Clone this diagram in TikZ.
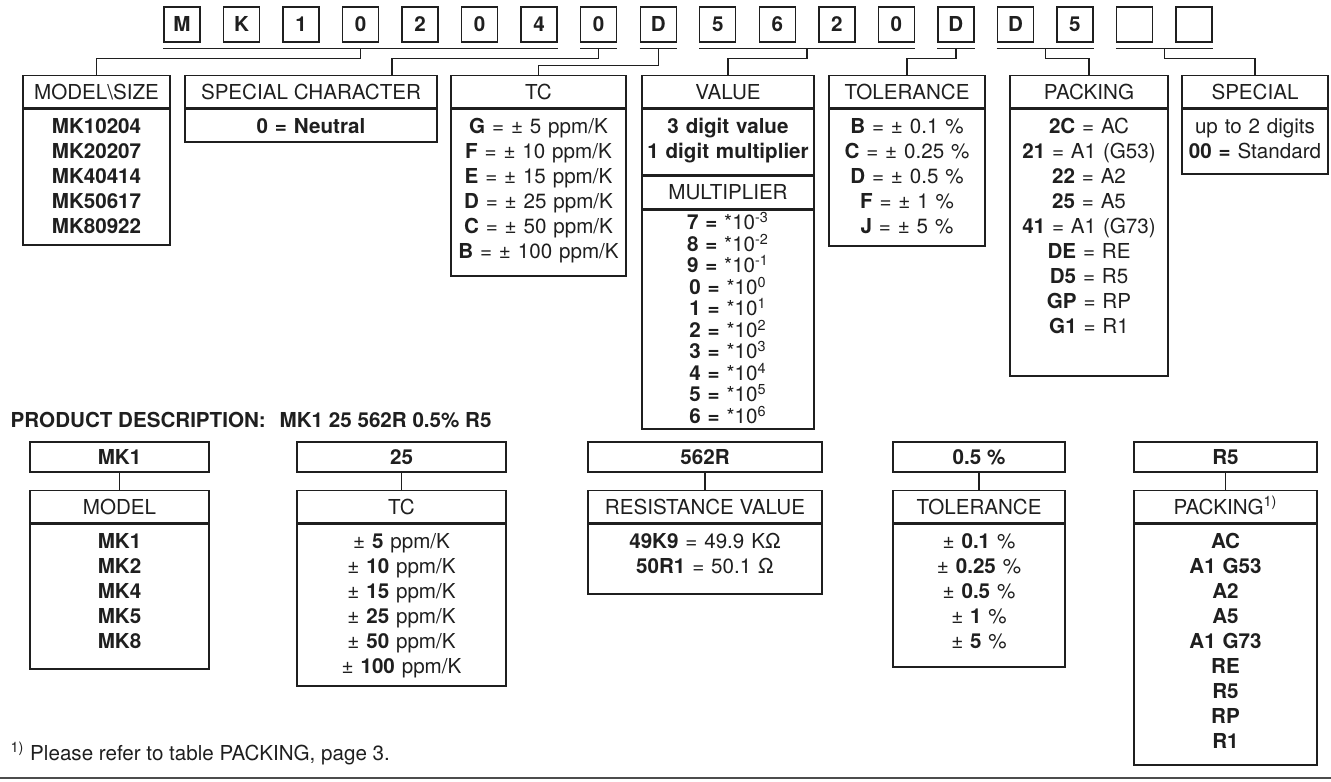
\documentclass[tikz,border=0pt]{standalone}
\usepackage{fontspec}
\setmainfont{TeX Gyre Heros}
\usetikzlibrary{positioning,calc}

\tikzset{
  cb/.style={draw,minimum width=18pt,minimum height=17.5pt,inner sep=0pt,font=\bfseries,text height=7.4pt,text depth=0pt},
  hd/.style={draw,minimum width=#1,minimum height=16pt,inner sep=0pt,text height=7.4pt,text depth=0pt},
  bd/.style 2 args={draw,inner sep=0pt,text width=#1,align=center,text height=12pt,text depth=#2},
  vb/.style={draw,minimum width=#1,minimum height=15pt,inner sep=0pt,font=\bfseries,text height=7.4pt,text depth=0pt},
}

\begin{document}
\fontsize{10.3}{12.5}\selectfont
\begin{tikzpicture}[x=0.5pt,y=-0.5pt,line width=0.7pt,color=black!88]
  \useasboundingbox (0,0) rectangle (1331,781);

  % code boxes
  \foreach \ch [count=\i] in {M,K,1,0,2,0,4,0,D,5,6,2,0,D,D,5,{},{}}
    \node[cb] (c\i) at ({182+59.53*(\i-1)},24.5) {\ch};

  % tables of the code
  \node[hd=73.5pt,anchor=north] (msz) at (96.5,75) {MODEL\textbackslash SIZE};
  \node[bd={73.5pt}{56pt},below=0pt of msz,font=\bfseries] (mszB) {MK10204\\MK20207\\MK40414\\MK50617\\MK80922};

  \node[hd=126pt,anchor=north] (sch) at (311,75) {SPECIAL CHARACTER};
  \node[bd={126pt}{4.5pt},below=0pt of sch] (schB) {\textbf{0 = Neutral}};

  \node[hd=87.5pt,anchor=north] (tc) at (538.5,75) {TC};
  \node[bd={87.5pt}{71.5pt},below=0pt of tc] (tcB) {\textbf{G} = ± 5 ppm/K\\\textbf{F} = ± 10 ppm/K\\\textbf{E} = ± 15 ppm/K\\
    \textbf{D} = ± 25 ppm/K\\\textbf{C} = ± 50 ppm/K\\\textbf{B} = ± 100 ppm/K};

  \node[hd=86pt,anchor=north] (val) at (728,75) {VALUE};
  \node[bd={86pt}{21pt},below=0pt of val,font=\bfseries] (valB) {3 digit value\\1 digit multiplier};
  \node[hd=86pt,below=0pt of valB] (mul) {MULTIPLIER};
  \node[bd={86pt}{99.5pt},below=0pt of mul,text height=10pt,font=\fontsize{10.3}{10.75}\selectfont] (mulB)
    {\textbf{7 =} *10\textsuperscript{-3}\\\textbf{8 =} *10\textsuperscript{-2}\\\textbf{9 =} *10\textsuperscript{-1}\\
     \textbf{0 =} *10\textsuperscript{0}\\\textbf{1 =} *10\textsuperscript{1}\\\textbf{2 =} *10\textsuperscript{2}\\
     \textbf{3 =} *10\textsuperscript{3}\\\textbf{4 =} *10\textsuperscript{4}\\\textbf{5 =} *10\textsuperscript{5}\\
     \textbf{6 =} *10\textsuperscript{6}};

  \node[hd=78pt,anchor=north] (tol) at (907,75) {TOLERANCE};
  \node[bd={78pt}{56.5pt},below=0pt of tol] (tolB) {\textbf{B} = ± 0.1 \%\\\textbf{C} = ± 0.25 \%\\\textbf{D} = ± 0.5 \%\\
    \textbf{F} = ± 1 \%\\\textbf{J} = ± 5 \%};

  \node[hd=79pt,anchor=north] (pck) at (1089,75) {PACKING};
  \node[bd={79pt}{121.5pt},below=0pt of pck] (pckB) {\textbf{2C} = AC\\\textbf{21} = A1 (G53)\\\textbf{22} = A2\\
    \textbf{25} = A5\\\textbf{41} = A1 (G73)\\\textbf{DE} = RE\\\textbf{D5} = R5\\\textbf{GP} = RP\\\textbf{G1} = R1};

  \node[hd=73pt,anchor=north] (spc) at (1255,75) {SPECIAL};
  \node[bd={73pt}{20.5pt},below=0pt of spc] (spcB) {up to 2 digits\\\textbf{00 =} Standard};

  % brackets under the code
  \coordinate (schin) at ([xshift=40.5pt]sch.north);
  \foreach \a/\b/\t/\d in {1/7/msz.north/10,8/8/schin/10,9/9/tc.north/17,10/13/val.north/10,
                           14/14/tol.north/10,15/16/pck.north/10,17/18/spc.north/10}{
    \draw ($(c\a.south west)+(0,6)$) -- ($(c\b.south east)+(0,6)$);
    \draw ($(c\a.south west)!.5!(c\b.south east)+(0,6)$) -- ++(0,\d) -| (\t);
  }

  % product description
  \node[anchor=base west,inner sep=0pt,font=\bfseries] (pd) at (10,427) {PRODUCT DESCRIPTION:};
  \node[anchor=base west,inner sep=0pt,font=\bfseries] (pdv) at (279,427) {MK1 25 562R 0.5\% R5};

  \node[vb=89.5pt] (mk) at (119.5,457) {MK1};
  \node[hd=89.5pt,anchor=north] (mod) at (119.5,490) {MODEL};
  \node[bd={89.5pt}{60.5pt},below=0pt of mod,font=\bfseries] (modB) {MK1\\MK2\\MK4\\MK5\\MK8};

  \node[vb=104.5pt] (tcv) at (401.5,457) {25};
  \node[hd=104.5pt,anchor=north] (tc2) at (401.5,490) {TC};
  \node[bd={104.5pt}{69pt},below=0pt of tc2] (tc2B) {± \textbf{5} ppm/K\\± \textbf{10} ppm/K\\± \textbf{15} ppm/K\\
    ± \textbf{25} ppm/K\\± \textbf{50} ppm/K\\± \textbf{100} ppm/K};

  \node[vb=117pt] (rv) at (705,457) {562R};
  \node[hd=117pt,anchor=north] (res) at (705,490) {RESISTANCE VALUE};
  \node[bd={117pt}{23pt},below=0pt of res] (resB) {\textbf{49K9} = 49.9 KΩ\\\textbf{50R1} = 50.1 Ω};

  \node[vb=86pt] (tv) at (979,457) {0.5 \%};
  \node[hd=86pt,anchor=north] (tol2) at (979,490) {TOLERANCE};
  \node[bd={86pt}{59.5pt},below=0pt of tol2] (tol2B) {± \textbf{0.1} \%\\± \textbf{0.25} \%\\± \textbf{0.5} \%\\
    ± \textbf{1} \%\\± \textbf{5} \%};

  \node[vb=91.5pt] (pv) at (1225.5,457) {R5};
  \node[hd=91.5pt,anchor=north] (pck2) at (1225.5,490) {PACKING\textsuperscript{1)}};
  \node[bd={91.5pt}{108.5pt},below=0pt of pck2,font=\bfseries] (pck2B) {AC\\A1 G53\\A2\\A5\\A1 G73\\RE\\R5\\RP\\R1};

  \draw (mk) -- (mod);
  \draw (tcv) -- (tc2);
  \draw (rv) -- (res);
  \draw (tv) -- (tol2);
  \draw (pv) -- (pck2);

  % footnote
  \node[anchor=base west,inner sep=0pt] (fn) at (10,760) {\textsuperscript{1)} Please refer to table PACKING, page 3.};
  \draw[line width=1.2pt,black!70] (0,778) -- (1331,778);
\end{tikzpicture}
\end{document}
